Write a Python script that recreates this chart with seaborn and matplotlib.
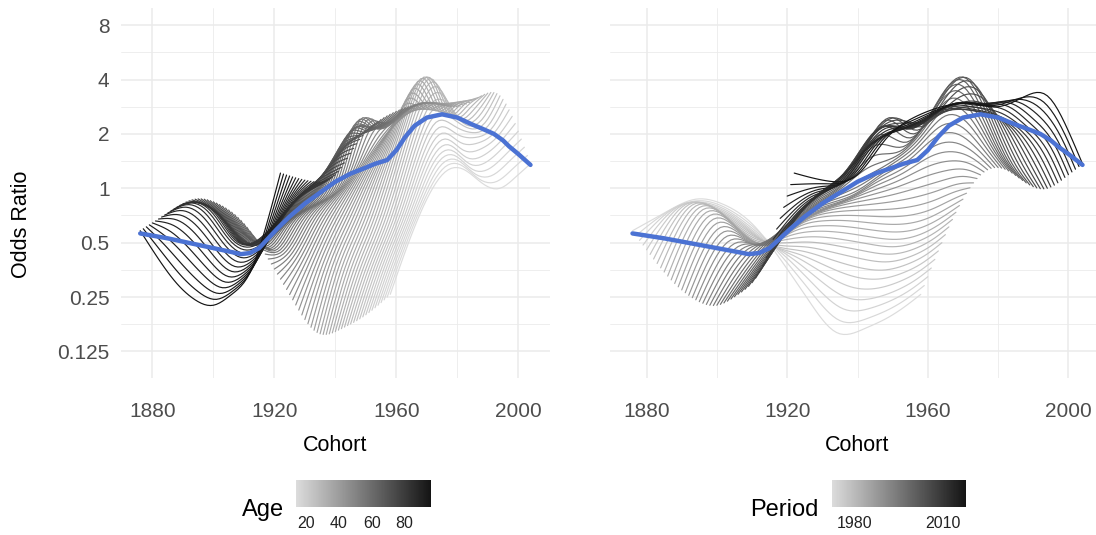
import numpy as np
import pandas as pd
import matplotlib
matplotlib.use("Agg")
import matplotlib.pyplot as plt
import matplotlib.ticker as mticker
from matplotlib.colors import LinearSegmentedColormap, Normalize
from matplotlib.cm import ScalarMappable
import seaborn as sns

# ---------------- data ----------------
ages = list(range(14, 97))
periods = list(range(1972, 2019))

# log2 odds ratio of the fitted surface at these knot periods, one list per knot age
knot_periods = [1972, 1978, 1984, 1990, 1996, 2002, 2008, 2013, 2018]
knot_ages = [14, 18, 24, 30, 38, 46, 54, 62, 70, 78, 86, 96]
lor_age14 = [-1.95, -1.00, -0.20, 0.30, 0.35, 0.10, 0.00, 0.20, 0.45]
lor_age18 = [-2.15, -1.20, -0.35, 0.45, 0.70, 0.45, 0.50, 0.75, 1.05]
lor_age24 = [-2.40, -1.40, -0.55, 0.50, 1.30, 1.30, 1.10, 1.20, 1.70]
lor_age30 = [-2.58, -1.50, -0.65, 0.40, 1.50, 2.00, 1.35, 1.50, 1.70]
lor_age38 = [-2.65, -1.45, -0.65, 0.15, 0.95, 1.65, 1.45, 1.55, 1.50]
lor_age46 = [-2.05, -1.30, -0.60, -0.05, 0.50, 1.00, 1.35, 1.55, 1.56]
lor_age54 = [-1.30, -1.15, -0.60, -0.25, 0.20, 1.25, 1.10, 1.25, 1.50]
lor_age62 = [-0.65, -1.05, -0.75, -0.45, -0.10, 0.50, 1.10, 1.05, 1.30]
lor_age70 = [-0.30, -0.75, -1.05, -0.75, -0.40, 0.00, 0.40, 0.75, 0.90]
lor_age78 = [-0.20, -0.40, -0.75, -1.05, -0.80, -0.40, -0.05, 0.10, 0.25]
lor_age86 = [-0.42, -0.30, -0.50, -0.95, -1.20, -1.05, -0.60, -0.15, 0.13]
lor_age96 = [-0.78, -1.30, -1.75, -2.05, -2.15, -1.95, -1.55, -0.75, 0.28]

# cohort effect (blue line)
cohort_knots = [1876, 1880, 1885, 1890, 1895, 1900, 1905, 1909, 1912, 1915, 1918,
                1921, 1925, 1930, 1935, 1940, 1945, 1950, 1953, 1957, 1960, 1963,
                1966, 1970, 1975, 1980, 1985, 1988, 1992, 1995, 1997, 2000, 2004]
cohort_log2_or = [-0.83, -0.87, -0.92, -0.98, -1.04, -1.10, -1.16, -1.21, -1.19, -1.10,
                  -0.92, -0.74, -0.52, -0.28, -0.08, 0.12, 0.27, 0.38, 0.45, 0.52,
                  0.70, 0.95, 1.15, 1.30, 1.36, 1.30, 1.17, 1.10, 1.00, 0.88, 0.77,
                  0.63, 0.43]

y_breaks = [0.125, 0.25, 0.5, 1, 2, 4, 8]
y_labels = ["0.125", "0.25", "0.5", "1", "2", "4", "8"]
x_breaks = [1880, 1920, 1960, 2000]
age_ticks = [20, 40, 60, 80]
period_ticks = [1980, 2010]


def natural_spline(xk, yk, xs):
    xk = np.asarray(xk, float)
    yk = np.asarray(yk, float)
    n = len(xk)
    h = np.diff(xk)
    A = np.zeros((n, n))
    r = np.zeros(n)
    A[0, 0] = A[-1, -1] = 1.0
    for i in range(1, n - 1):
        A[i, i - 1] = h[i - 1]
        A[i, i] = 2 * (h[i - 1] + h[i])
        A[i, i + 1] = h[i]
        r[i] = 6 * ((yk[i + 1] - yk[i]) / h[i] - (yk[i] - yk[i - 1]) / h[i - 1])
    M = np.linalg.solve(A, r)
    xs = np.asarray(xs, float)
    j = np.clip(np.searchsorted(xk, xs) - 1, 0, n - 2)
    x0, x1 = xk[j], xk[j + 1]
    hj = x1 - x0
    t0 = x1 - xs
    t1 = xs - x0
    return (M[j] * t0 ** 3 / (6 * hj) + M[j + 1] * t1 ** 3 / (6 * hj)
            + (yk[j] / hj - M[j] * hj / 6) * t0 + (yk[j + 1] / hj - M[j + 1] * hj / 6) * t1)


rows = [lor_age14, lor_age18, lor_age24, lor_age30, lor_age38, lor_age46,
        lor_age54, lor_age62, lor_age70, lor_age78, lor_age86, lor_age96]
by_period = np.array([natural_spline(knot_periods, r, periods) for r in rows])
surface = np.array([natural_spline(knot_ages, by_period[:, j], ages)
                    for j in range(len(periods))]).T  # (ages, periods)

recs = []
for i, a in enumerate(ages):
    for j, p in enumerate(periods):
        recs.append((a, p, p - a, 2.0 ** surface[i, j]))
df = pd.DataFrame(recs, columns=["Age", "Period", "Cohort", "OR"])
blue = pd.DataFrame({"Cohort": cohort_knots, "OR": 2.0 ** np.array(cohort_log2_or)})

# ---------------- figure ----------------
sns.set_theme(style="white")
plt.rcParams["font.family"] = ["Liberation Sans", "DejaVu Sans"]

W, H = 1096, 535
fig = plt.figure(figsize=(W / 100, H / 100), dpi=100)
top, bot = 8.3, 378.3
ax1 = fig.add_axes([120.7 / W, 1 - bot / H, (550 - 120.7) / W, (bot - top) / H])
ax2 = fig.add_axes([610 / W, 1 - bot / H, (1105 - 610) / W, (bot - top) / H])

cmap = LinearSegmentedColormap.from_list("grey", ["#dcdcdc", "#141414"])
grid_col = "#ebebeb"
txt_col = "#4d4d4d"

for ax, hue, lims in [(ax1, "Age", (14, 96)), (ax2, "Period", (1972, 2018))]:
    ax.set_facecolor("white")
    for s in ax.spines.values():
        s.set_visible(False)
    sns.lineplot(data=df, x="Cohort", y="OR", hue=hue, units=hue, estimator=None,
                 palette=cmap, hue_norm=lims, legend=False, linewidth=0.85, ax=ax,
                 sort=True)
    sns.lineplot(data=blue, x="Cohort", y="OR", color="#4b72d3", linewidth=3.2,
                 ax=ax, sort=True)
    ax.set_yscale("log", base=2)
    ax.set_ylim(2 ** -3.493, 2 ** 3.309)
    ax.set_xlim(1869.6, 2010.4)
    ax.yaxis.set_major_locator(mticker.FixedLocator(y_breaks))
    ax.yaxis.set_minor_locator(mticker.FixedLocator([2 ** (k + 0.5) for k in range(-4, 4)]))
    ax.yaxis.set_minor_formatter(mticker.NullFormatter())
    ax.xaxis.set_major_locator(mticker.FixedLocator(x_breaks))
    ax.xaxis.set_minor_locator(mticker.FixedLocator([1860, 1900, 1940, 1980, 2020]))
    ax.xaxis.set_minor_formatter(mticker.NullFormatter())
    ax.grid(True, which="major", color=grid_col, linewidth=1.1, zorder=0)
    ax.grid(True, which="minor", color=grid_col, linewidth=0.6, zorder=0)
    ax.set_axisbelow(True)
    ax.tick_params(which="both", length=0, colors=txt_col, labelsize=15)
    ax.tick_params(axis="x", pad=17)
    ax.set_xlabel("Cohort", fontsize=15.5, color="black", labelpad=10)
    ax.set_ylabel("")

ax1.yaxis.set_major_formatter(mticker.FixedFormatter(y_labels))
ax1.tick_params(axis="y", pad=8)
ax2.set_yticklabels([])
fig.text(22 / W, 1 - 224 / H, "Odds Ratio", rotation=90, ha="center", va="center",
         fontsize=15.5, color="black")

# colourbar legends
for x0, x1, lims, ticks, title, tx in [(296, 431, (14, 96), age_ticks, "Age", 284),
                                     (831.7, 966, (1972, 2018), period_ticks, "Period", 819)]:
    cax = fig.add_axes([x0 / W, 1 - 507.3 / H, (x1 - x0) / W, 27.3 / H])
    cb = fig.colorbar(ScalarMappable(norm=Normalize(*lims), cmap=cmap), cax=cax,
                      orientation="horizontal")
    cb.outline.set_visible(False)
    cb.set_ticks(ticks)
    cax.xaxis.set_ticks_position("both")
    cax.tick_params(which="major", direction="in", color="white", length=4.5, width=1,
                    labelsize=11.5, colors="white", labelcolor="#222222", pad=6,
                    labeltop=False, labelbottom=True)
    cax.tick_params(which="minor", length=0)
    fig.text(tx / W, 1 - 510 / H, title, ha="right", va="center", fontsize=17, color="black")

fig.savefig("out.png", dpi=100)
